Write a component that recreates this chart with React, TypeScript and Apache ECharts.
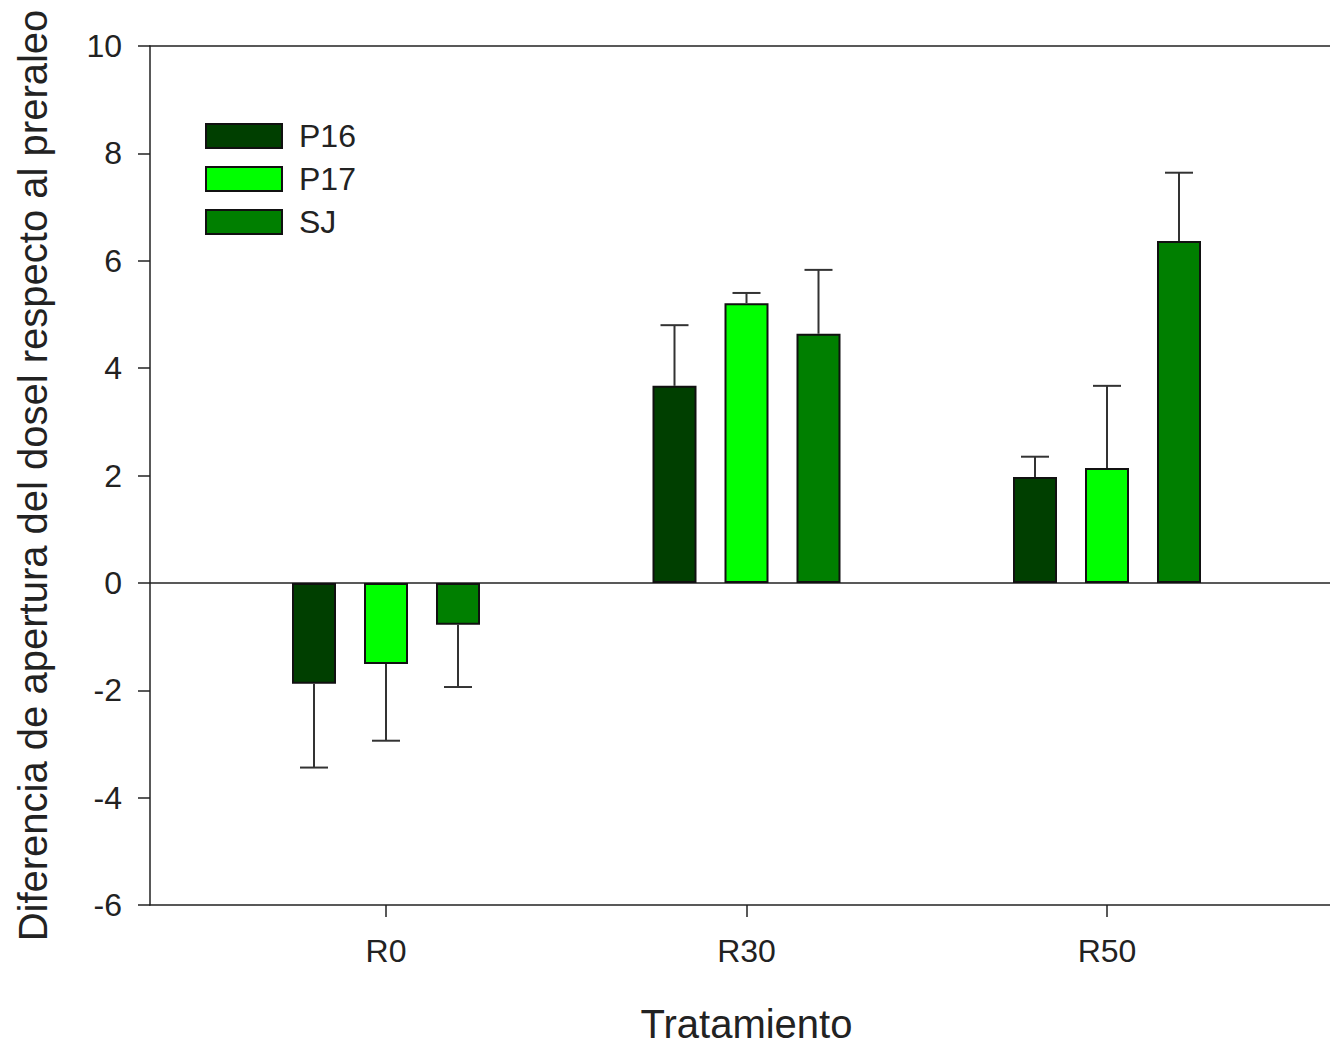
import React, { useEffect, useRef } from "react";
import * as echarts from "echarts";

const categories = ["R0", "R30", "R50"];
const seriesNames = ["P16", "P17", "SJ"];
const p16 = [-1.88, 3.67, 1.97];
const p17 = [-1.51, 5.21, 2.14];
const sj = [-0.78, 4.64, 6.37];
const p16Err = [1.56, 1.13, 0.38];
const p17Err = [1.43, 0.19, 1.53];
const sjErr = [1.16, 1.19, 1.27];
const colors = ["#003f00", "#00ff00", "#007f00"];

const FONT = "Liberation Sans, Arial, sans-serif";
const BAR_W = 44;
const BAR_GAP = 28;

export default function App() {
  const ref = useRef<HTMLDivElement>(null);
  useEffect(() => {
    if (!ref.current) return;
    document.body.style.margin = "0";
    const chart = echarts.init(ref.current, null, { renderer: "svg" });
    const values = [p16, p17, sj];
    const errs = [p16Err, p17Err, sjErr];

    const barSeries = seriesNames.map((name, i) => ({
      name,
      type: "bar",
      xAxisIndex: 1,
      yAxisIndex: 1,
      data: values[i],
      barWidth: BAR_W,
      barGap: (BAR_GAP / BAR_W) * 100 + "%",
      itemStyle: { color: colors[i], borderColor: "#111", borderWidth: 2 },
      z: 2,
    }));

    const errSeries = seriesNames.map((name, i) => ({
      name: name + "-err",
      type: "custom",
      xAxisIndex: 1,
      yAxisIndex: 1,
      z: 3,
      data: values[i].map((v, k) => [k, v, errs[i][k]]),
      renderItem: (params: any, api: any) => {
        const k = api.value(0);
        const v = api.value(1);
        const e = api.value(2);
        const end = v >= 0 ? v + e : v - e;
        const off = (i - 1) * (BAR_W + BAR_GAP);
        const p0 = api.coord([k, v]);
        const p1 = api.coord([k, end]);
        const x = p0[0] + off;
        const capHalf = 14;
        const style = { stroke: "#333", lineWidth: 2 };
        return {
          type: "group",
          children: [
            { type: "line", shape: { x1: x, y1: p0[1], x2: x, y2: p1[1] }, style },
            { type: "line", shape: { x1: x - capHalf, y1: p1[1], x2: x + capHalf, y2: p1[1] }, style },
          ],
        };
      },
    }));

    const option: any = {
      animation: false,
      backgroundColor: "#fff",
      legend: {
        data: seriesNames,
        orient: "vertical",
        left: 200,
        top: 115,
        icon: "rect",
        itemWidth: 76,
        itemHeight: 24,
        itemGap: 11,
        textStyle: { fontFamily: FONT, fontSize: 32, color: "#222", padding: [0, 0, 0, 12] },
        selectedMode: false,
      },
      grid: [
        { left: 150, right: 0, top: 46, bottom: 145 },
        { left: 205.75, right: 42.75, top: 46, bottom: 145 },
      ],
      xAxis: [
        {
          type: "value",
          gridIndex: 0,
          min: 0,
          max: 1,
          position: "bottom",
          axisLine: { show: true, onZero: false, lineStyle: { color: "#222", width: 1.5 } },
          axisTick: { show: false },
          axisLabel: { show: false },
          splitLine: { show: false },
        },
        {
          type: "category",
          gridIndex: 1,
          data: categories,
          position: "bottom",
          axisLine: { show: false, onZero: false },
          axisTick: { show: true, alignWithLabel: true, length: 12, lineStyle: { color: "#222", width: 1.5 } },
          axisLabel: { fontFamily: FONT, fontSize: 32, color: "#222", margin: 30 },
          name: "Tratamiento",
          nameLocation: "middle",
          nameGap: 99,
          nameTextStyle: { fontFamily: FONT, fontSize: 40, color: "#222" },
        },
        {
          type: "value",
          gridIndex: 0,
          min: 0,
          max: 1,
          position: "top",
          axisLine: { show: true, onZero: false, lineStyle: { color: "#222", width: 1.5 } },
          axisTick: { show: false },
          axisLabel: { show: false },
          splitLine: { show: false },
        },
      ],
      yAxis: [
        {
          type: "value",
          gridIndex: 0,
          min: -6,
          max: 10,
          interval: 2,
          axisLine: { show: true, onZero: false, lineStyle: { color: "#222", width: 1.5 } },
          axisTick: { show: true, length: 12, lineStyle: { color: "#222", width: 1.5 } },
          axisLabel: { fontFamily: FONT, fontSize: 32, color: "#222", margin: 28 },
          splitLine: { show: false },
          name: "Diferencia de apertura del dosel respecto al preraleo",
          nameLocation: "middle",
          nameGap: 97,
          nameRotate: 90,
          nameTextStyle: { fontFamily: FONT, fontSize: 40, color: "#222" },
        },
        {
          type: "value",
          gridIndex: 1,
          min: -6,
          max: 10,
          interval: 2,
          show: false,
        },
      ],
      series: [
        {
          name: "zero",
          type: "line",
          xAxisIndex: 0,
          yAxisIndex: 0,
          data: [[0, 0], [1, 0]],
          symbol: "none",
          lineStyle: { color: "#222", width: 1.5 },
          silent: true,
          z: 1,
        },
        ...barSeries,
        ...errSeries,
      ],
    };
    chart.setOption(option);
    return () => chart.dispose();
  }, []);
  return <div ref={ref} style={{ width: 1330, height: 1050 }} />;
}
